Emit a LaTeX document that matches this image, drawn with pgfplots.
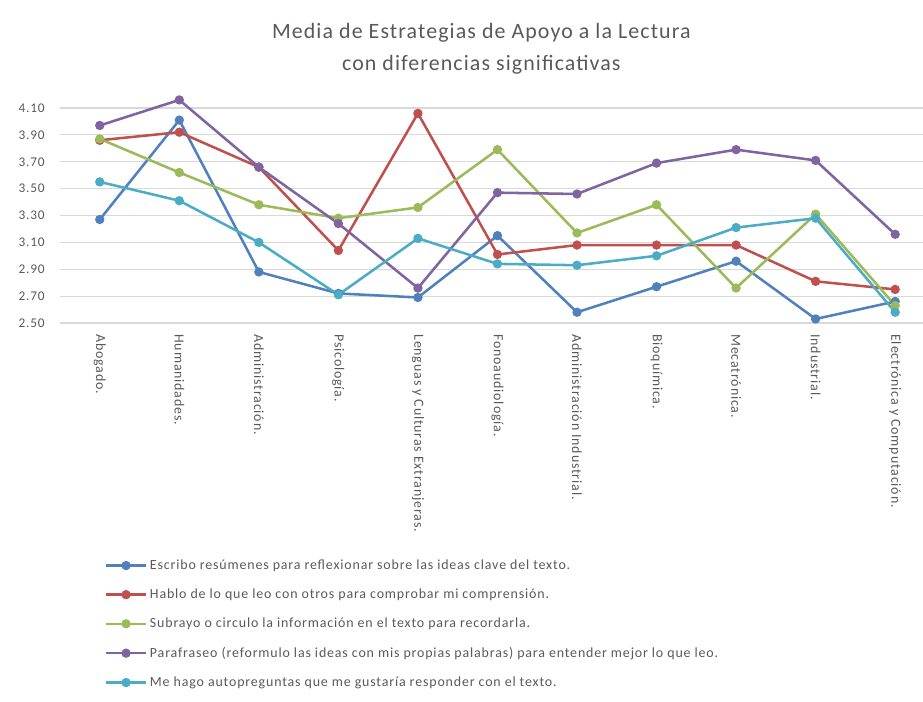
\documentclass[border=0pt]{standalone}
\usepackage{pgfplots}
\pgfplotsset{compat=1.18}
\usepackage{fontspec}
\setmainfont{Carlito}[LetterSpace=6]
\newfontfamily\titlefont{Carlito}[LetterSpace=5]
\definecolor{cblue}{HTML}{4F81BD}
\definecolor{cred}{HTML}{C0504D}
\definecolor{cgreen}{HTML}{9BBB59}
\definecolor{cpurple}{HTML}{8064A2}
\definecolor{ccyan}{HTML}{4BACC6}
\definecolor{txt}{HTML}{595959}
\definecolor{gridc}{HTML}{D9D9D9}
\begin{document}
\begin{tikzpicture}
\path[use as bounding box] (0,0) rectangle (692.25bp,526.5bp);
\node[font=\titlefont\fontsize{16.5}{24}\selectfont, text=txt, align=center] at (361bp,490bp)
  {Media de Estrategias de Apoyo a la Lectura\\con diferencias significativas};
\begin{axis}[
  at={(45bp,284.25bp)}, anchor=south west,
  scale only axis, width=647.25bp, height=161.25bp,
  xmin=-0.5, xmax=10.35, ymin=2.5, ymax=4.1,
  clip=false,
  axis line style={draw=none},
  tick style={draw=none},
  ytick={2.5,2.7,2.9,3.1,3.3,3.5,3.7,3.9,4.1},
  ymajorgrids, grid style={gridc, line width=0.8bp},
  /pgf/number format/fixed, /pgf/number format/fixed zerofill, /pgf/number format/precision=2,
  /pgf/number format/assume math mode=true,
  y tick label style={font=\fontsize{10}{11}\selectfont, text=txt, xshift=-8bp},
  xtick={0,...,10},
  xticklabels={Abogado., Humanidades., Administración., Psicología., Lenguas y Culturas Extranjeras., Fonoaudiología., Administración Industrial., Bioquímica., Mecatrónica., Industrial., Electrónica y Computación.},
  xticklabel shift=5bp,
  x tick label style={rotate=-90, anchor=west, font=\fontsize{10.5}{11}\selectfont, text=txt},
  every axis plot/.append style={line width=1.9bp, mark=*, mark size=2.5bp},
  legend cell align=left,
  legend style={at={(0.047,-1.075)}, anchor=north west, draw=none, fill=none,
    font=\fontsize{10.5}{11}\selectfont, text=txt, row sep=9.1bp},
  legend image code/.code={\draw[mark repeat=2,mark phase=2,#1] plot coordinates {(0bp,0bp) (15bp,0bp) (30bp,0bp)};},
]
\addplot[color=cblue] coordinates {(0,3.27)(1,4.01)(2,2.88)(3,2.72)(4,2.69)(5,3.15)(6,2.58)(7,2.77)(8,2.96)(9,2.53)(10,2.66)};
\addlegendentry{Escribo resúmenes para reflexionar sobre las ideas clave del texto.}
\addplot[color=cred] coordinates {(0,3.86)(1,3.92)(2,3.66)(3,3.04)(4,4.06)(5,3.01)(6,3.08)(7,3.08)(8,3.08)(9,2.81)(10,2.75)};
\addlegendentry{Hablo de lo que leo con otros para comprobar mi comprensión.}
\addplot[color=cgreen] coordinates {(0,3.87)(1,3.62)(2,3.38)(3,3.28)(4,3.36)(5,3.79)(6,3.17)(7,3.38)(8,2.76)(9,3.31)(10,2.63)};
\addlegendentry{Subrayo o circulo la información en el texto para recordarla.}
\addplot[color=cpurple] coordinates {(0,3.97)(1,4.16)(2,3.66)(3,3.24)(4,2.76)(5,3.47)(6,3.46)(7,3.69)(8,3.79)(9,3.71)(10,3.16)};
\addlegendentry{Parafraseo (reformulo las ideas con mis propias palabras) para entender mejor lo que leo.}
\addplot[color=ccyan] coordinates {(0,3.55)(1,3.41)(2,3.10)(3,2.71)(4,3.13)(5,2.94)(6,2.93)(7,3.00)(8,3.21)(9,3.28)(10,2.58)};
\addlegendentry{Me hago autopreguntas que me gustaría responder con el texto.}
\end{axis}
\end{tikzpicture}
\end{document}
